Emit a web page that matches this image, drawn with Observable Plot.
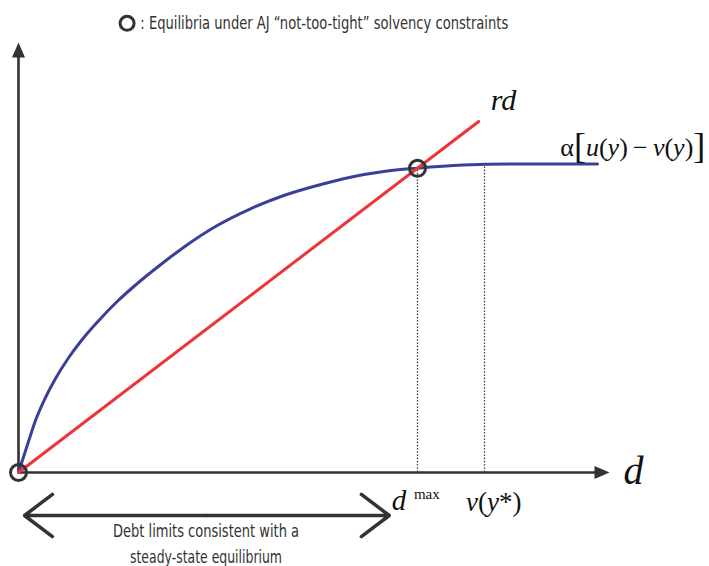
<!DOCTYPE html>
<html>
<head>
<meta charset="utf-8">
<script src="https://cdn.jsdelivr.net/npm/d3@7"></script>
<script src="https://cdn.jsdelivr.net/npm/@observablehq/plot@0.6"></script>
<style>
  html, body { margin: 0; padding: 0; background: #fff; }
  #chart svg { display: block; }
</style>
</head>
<body>
<div id="chart"></div>
<script>
// Debt d on the horizontal axis, payoff on the vertical axis.
// Concave participation curve α[u(y) − v(y)], flat beyond v(y*).
const curveD = [0, 1.72, 2.83, 4.5, 6.17, 8.38, 10.62, 13.38, 16.45, 19.22, 23.67, 27.55, 33.12, 38.67, 44.22, 49.78, 55.33, 60.88, 66.45, 74.17, 82, 96.5];
const curveV = [0, 8, 13, 18.75, 23.5, 28.75, 33.25, 38, 42.75, 46.5, 51.93, 56.33, 61.75, 65.93, 69.25, 71.75, 73.83, 75.25, 76.08, 76.88, 77.13, 77.13];

// Interest cost line r·d
const rdD = [0, 76.7];
const rdV = [0, 87.75];

// Equilibria (origin and the crossing at d^max)
const eqD = [0, 66.5];
const eqV = [0, 76.05];

// Reference levels on the d axis
const dMax = 66.5;
const vYStar = 77.67;
const guideTop = [75.5, 76.9];

// Axis extents
const xAxisEnd = 98.5;
const yAxisEnd = 107.5;

// Range of steady-state debt limits (double arrow)
const rangeD = [1, 61.8];
const rangeY = -10.75;

// Text
const legendText = ": Equilibria under AJ \u201cnot-too-tight\u201d solvency constraints";
const captionLines = ["Debt limits consistent with a", "steady-state equilibrium"];

const curve = curveD.map((d, i) => ({d, v: curveV[i]}));
const rd = rdD.map((d, i) => ({d, v: rdV[i]}));
const eq = eqD.map((d, i) => ({d, v: eqV[i]}));
const guides = [dMax, vYStar].map((d, i) => ({d, top: guideTop[i]}));
const rangeMid = (rangeD[0] + rangeD[1]) / 2;

const ink = "#333333";
const blue = "#3a3f98";
const red = "#ee3339";
const narrow = "'Liberation Sans Narrow', 'DejaVu Sans Condensed', 'Roboto Condensed', sans-serif";
const serif = "'Liberation Serif', 'DejaVu Serif', serif";

// Filled arrowhead with its tip at the anchor point, pointing up
const arrowHead = {
  draw(context) {
    context.moveTo(0, 0);
    context.lineTo(-6.5, 15);
    context.lineTo(6.5, 15);
    context.closePath();
  }
};

const chart = Plot.plot({
  width: 709,
  height: 566,
  margin: 0,
  x: {domain: [-3, 115.1667], axis: null},
  y: {domain: [-23.5, 118], axis: null},
  marks: [
    // axes
    Plot.ruleY([0], {x1: 0, x2: xAxisEnd - 2.2, stroke: ink, strokeWidth: 2.6}),
    Plot.ruleX([0], {y1: 0, y2: yAxisEnd - 3.3, stroke: ink, strokeWidth: 2.6}),
    Plot.dot([{d: xAxisEnd, v: 0}], {x: "d", y: "v", symbol: arrowHead, rotate: 90, fill: ink, stroke: "none"}),
    Plot.dot([{d: 0, v: yAxisEnd}], {x: "d", y: "v", symbol: arrowHead, fill: ink, stroke: "none"}),

    // dotted guides down to the d axis
    Plot.ruleX(guides, {x: "d", y1: 0, y2: "top", stroke: "#444", strokeWidth: 1.3, strokeDasharray: "1.6,1.6"}),

    // curves
    Plot.line(curve, {x: "d", y: "v", curve: "monotone-x", stroke: blue, strokeWidth: 3}),
    Plot.line(rd, {x: "d", y: "v", stroke: red, strokeWidth: 3}),

    // equilibria
    Plot.dot(eq, {x: "d", y: "v", r: 8, stroke: ink, strokeWidth: 3, fill: "none"}),

    // legend
    Plot.dot([{d: 18.1, v: 112.3}], {x: "d", y: "v", r: 7, stroke: ink, strokeWidth: 3, fill: "none"}),
    Plot.text([legendText], {
      x: 20.3, y: 112.3, textAnchor: "start", fontFamily: narrow, fontSize: 18, fill: ink
    }),

    // curve labels
    Plot.text(["rd"], {x: 78.7, y: 93, textAnchor: "start", fontFamily: serif, fontStyle: "italic", fontSize: 30, fill: "#111"}),
    Plot.text(["ALPHA_LABEL"], {x: 90.3, y: 81.3, textAnchor: "start", fontFamily: serif, fontSize: 26, fill: "#111"}),

    // axis and tick labels
    Plot.text(["d"], {x: 102.5, y: 0.3, fontFamily: serif, fontStyle: "italic", fontSize: 40, fill: "#111"}),
    Plot.text(["d"], {x: 63.4, y: -7, fontFamily: serif, fontStyle: "italic", fontSize: 29, fill: "#111"}),
    Plot.text(["max"], {x: 65.9, y: -5.4, textAnchor: "start", fontFamily: serif, fontSize: 15, fill: "#111"}),
    Plot.text(["VSTAR_LABEL"], {x: 79.2, y: -7.4, fontFamily: serif, fontSize: 27, fill: "#111"}),

    // range of debt limits
    Plot.arrow([{a: rangeMid, b: rangeD[0]}, {a: rangeMid, b: rangeD[1]}], {
      x1: "a", x2: "b", y1: rangeY, y2: rangeY, stroke: ink, strokeWidth: 3.5, headLength: 15, headAngle: 74
    }),
    Plot.text(captionLines, {
      x: 31.25, y: (t, i) => -14.75 - 6.5 * i, fontFamily: narrow, fontSize: 17, fill: ink
    })
  ]
});

const svg = d3.select(chart);
const byText = (key) => svg.selectAll("text").filter(function () { return this.textContent === key; });

// Condensed lettering for the legend and caption
const fitWidths = new Map([[legendText, 368], [captionLines[0], 186], [captionLines[1], 152]]);
for (const [key, w] of fitWidths) {
  byText(key).attr("textLength", w).attr("lengthAdjust", "spacingAndGlyphs");
}

// Typeset the math labels: italic variables, upright operators and brackets
function typeset(key, parts) {
  byText(key).each(function () {
    const t = d3.select(this);
    t.text(null);
    for (const [s, opt] of parts) {
      const span = t.append("tspan").text(s);
      if (opt.italic) span.attr("font-style", "italic");
      if (opt.size) span.attr("font-size", opt.size);
      if (opt.dy) span.attr("dy", opt.dy);
    }
  });
}
typeset("ALPHA_LABEL", [
  ["\u03b1", {}], ["[", {size: 36, dy: "0.06em"}], ["u", {italic: true, dy: "-0.06em"}], ["(", {}], ["y", {italic: true}], [")", {}],
  ["\u2009\u2212\u2009", {}], ["v", {italic: true}], ["(", {}], ["y", {italic: true}], [")", {}], ["]", {size: 36, dy: "0.06em"}]
]);
typeset("VSTAR_LABEL", [
  ["v", {italic: true}], ["(", {}], ["y", {italic: true}], ["*", {}], [")", {}]
]);

document.getElementById("chart").appendChild(chart);
</script>
</body>
</html>
